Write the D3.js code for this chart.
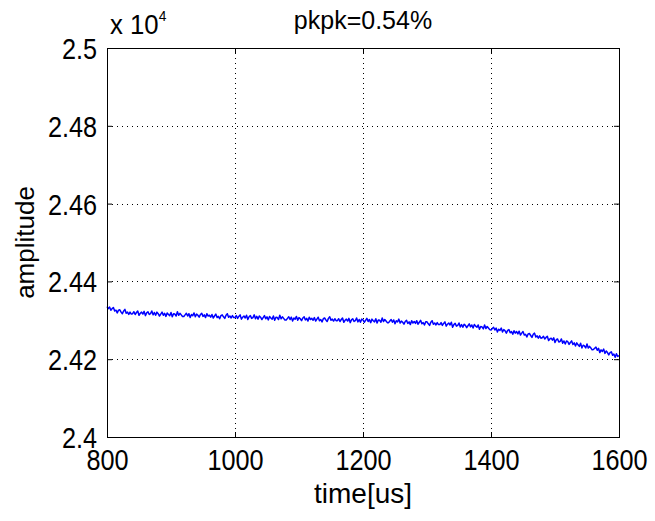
<!DOCTYPE html>
<html>
<head>
<meta charset="utf-8">
<script src="https://cdn.jsdelivr.net/npm/d3@7"></script>
<style>
  html, body { margin: 0; padding: 0; background: #fff; }
  svg { display: block; }
  text { font-family: "Liberation Sans", Arial, sans-serif; fill: #000; }
</style>
</head>
<body>
<svg id="chart" width="655" height="521"></svg>
<script>
// Sampled amplitude trace, one sample every 2 us from 800 to 1600 us (raw counts)
const timeStart = 800;
const timeStep = 2;
const amplitude = [
  24335, 24330, 24334, 24326, 24330, 24333, 24324, 24326, 24319, 24326, 24327, 24321, 24317, 24324, 24328, 24318, 24321, 24315, 24321, 24316,
  24317, 24322, 24315, 24320, 24324, 24313, 24318, 24321, 24316, 24323, 24312, 24319, 24322, 24315, 24317, 24324, 24314, 24320, 24313, 24321,
  24317, 24311, 24316, 24321, 24313, 24318, 24310, 24319, 24315, 24312, 24320, 24309, 24317, 24316, 24311, 24322, 24313, 24318, 24314, 24310,
  24310, 24314, 24318, 24311, 24317, 24307, 24315, 24312, 24319, 24309, 24316, 24313, 24308, 24315, 24318, 24310, 24314, 24307, 24317, 24311,
  24313, 24308, 24315, 24306, 24311, 24316, 24307, 24310, 24304, 24312, 24314, 24309, 24305, 24313, 24317, 24308, 24311, 24306, 24312, 24307,
  24307, 24312, 24305, 24310, 24314, 24303, 24308, 24311, 24306, 24313, 24302, 24309, 24312, 24305, 24307, 24314, 24304, 24310, 24303, 24311,
  24308, 24302, 24307, 24312, 24304, 24309, 24301, 24310, 24306, 24303, 24311, 24300, 24308, 24307, 24302, 24313, 24304, 24309, 24305, 24301,
  24301, 24305, 24309, 24302, 24308, 24298, 24306, 24303, 24310, 24300, 24307, 24304, 24299, 24306, 24309, 24301, 24305, 24298, 24308, 24302,
  24305, 24300, 24307, 24298, 24303, 24308, 24299, 24302, 24296, 24304, 24306, 24301, 24297, 24305, 24309, 24300, 24303, 24298, 24304, 24299,
  24299, 24304, 24297, 24302, 24306, 24295, 24300, 24303, 24298, 24305, 24294, 24301, 24304, 24297, 24299, 24306, 24296, 24302, 24295, 24303,
  24301, 24295, 24300, 24305, 24297, 24302, 24294, 24303, 24299, 24296, 24304, 24293, 24301, 24300, 24295, 24306, 24297, 24302, 24298, 24294,
  24294, 24298, 24302, 24295, 24301, 24291, 24299, 24296, 24303, 24293, 24298, 24295, 24290, 24297, 24300, 24292, 24296, 24289, 24299, 24293,
  24297, 24292, 24299, 24290, 24295, 24300, 24291, 24294, 24288, 24296, 24296, 24291, 24287, 24295, 24299, 24290, 24293, 24288, 24294, 24289,
  24289, 24294, 24287, 24292, 24296, 24285, 24290, 24293, 24288, 24295, 24282, 24289, 24292, 24285, 24287, 24293, 24283, 24289, 24282, 24290,
  24287, 24281, 24286, 24291, 24283, 24288, 24280, 24289, 24285, 24282, 24288, 24277, 24284, 24283, 24278, 24288, 24279, 24284, 24280, 24276,
  24275, 24279, 24282, 24275, 24280, 24270, 24277, 24274, 24280, 24270, 24276, 24273, 24267, 24274, 24276, 24268, 24271, 24264, 24273, 24267,
  24271, 24265, 24272, 24262, 24267, 24271, 24262, 24264, 24257, 24265, 24266, 24261, 24256, 24264, 24267, 24257, 24260, 24254, 24260, 24254,
  24255, 24259, 24252, 24256, 24259, 24248, 24252, 24254, 24249, 24255, 24243, 24250, 24252, 24244, 24246, 24252, 24241, 24247, 24239, 24247,
  24245, 24238, 24243, 24247, 24238, 24242, 24234, 24242, 24237, 24233, 24241, 24229, 24236, 24234, 24229, 24239, 24229, 24233, 24229, 24224,
  24225, 24228, 24231, 24223, 24228, 24217, 24224, 24220, 24226, 24215, 24221, 24217, 24211, 24217, 24219, 24210, 24213, 24205, 24214, 24207,
  24209
];

const xTicks = [800, 1000, 1200, 1400, 1600];
const yTicks = [24000, 24200, 24400, 24600, 24800, 25000];
const yTickLabels = ["2.4", "2.42", "2.44", "2.46", "2.48", "2.5"];
const yExponent = "4";
const titleText = "pkpk=0.54%";
const xLabel = "time[us]";
const yLabel = "amplitude";

const svg = d3.select("#chart");
const plot = { left: 107, right: 619, top: 48, bottom: 437 };
const narrow = 0.87; // horizontal squeeze for the numeric labels

const x = d3.scaleLinear().domain([800, 1600]).range([plot.left, plot.right]);
const y = d3.scaleLinear().domain([24000, 25000]).range([plot.bottom, plot.top]);

const series = amplitude.map((v, i) => ({ t: timeStart + i * timeStep, v }));

// dotted grid
const grid = svg.append("g").attr("stroke", "#000").attr("stroke-width", 1)
  .attr("stroke-dasharray", "1,4").attr("shape-rendering", "crispEdges");
grid.selectAll("line.gx").data(xTicks.slice(1, -1)).join("line")
  .attr("x1", d => Math.round(x(d)) + 0.5).attr("x2", d => Math.round(x(d)) + 0.5)
  .attr("y1", plot.top).attr("y2", plot.bottom);
grid.selectAll("line.gy").data(yTicks.slice(1, -1)).join("line")
  .attr("y1", d => Math.round(y(d)) + 0.5).attr("y2", d => Math.round(y(d)) + 0.5)
  .attr("x1", plot.left).attr("x2", plot.right);

// trace
const line = d3.line().x(d => x(d.t)).y(d => y(d.v));
svg.append("path").datum(series)
  .attr("fill", "none").attr("stroke", "#0000ff").attr("stroke-width", 1.5)
  .attr("stroke-linejoin", "round")
  .attr("d", line);

// axes with inward ticks
const xAxis = d3.axisBottom(x).tickValues(xTicks).tickSizeInner(-5).tickSizeOuter(0)
  .tickFormat(d3.format("d"));
const yAxis = d3.axisLeft(y).tickValues(yTicks).tickSizeInner(-5).tickSizeOuter(0)
  .tickFormat((d, i) => yTickLabels[i]);

const gx = svg.append("g").attr("transform", `translate(0,${plot.bottom})`).call(xAxis);
const gy = svg.append("g").attr("transform", `translate(${plot.left},0)`).call(yAxis);
// mirrored ticks on the top and right edges
svg.append("g").attr("transform", `translate(0,${plot.top})`)
  .call(d3.axisTop(x).tickValues(xTicks).tickSizeInner(-5).tickSizeOuter(0).tickFormat(""));
svg.append("g").attr("transform", `translate(${plot.right},0)`)
  .call(d3.axisRight(y).tickValues(yTicks).tickSizeInner(-5).tickSizeOuter(0).tickFormat(""));

svg.selectAll(".domain").remove();
svg.selectAll(".tick line").attr("stroke", "#000");
svg.selectAll(".tick text").attr("fill", "#000").attr("font-family", null);
gx.selectAll(".tick text")
  .attr("font-size", 29).attr("y", 10).attr("dy", "0.78em")
  .attr("transform", `scale(${narrow},1)`);
gy.selectAll(".tick text")
  .attr("font-size", 29).attr("x", -10 / narrow).attr("dy", "0.36em")
  .attr("transform", `scale(${narrow},1)`);

// frame
svg.append("rect")
  .attr("x", plot.left + 0.5).attr("y", plot.top + 0.5)
  .attr("width", plot.right - plot.left).attr("height", plot.bottom - plot.top)
  .attr("fill", "none").attr("stroke", "#000").attr("stroke-width", 1);

// exponent marker
const ex = svg.append("text")
  .attr("transform", `translate(110,34) scale(${narrow + 0.05},1)`)
  .attr("font-size", 28);
ex.append("tspan").text("x 10");
ex.append("tspan").attr("font-size", 15).attr("dy", -13).text(yExponent);

// title
svg.append("text")
  .attr("x", (plot.left + plot.right) / 2).attr("y", 29)
  .attr("text-anchor", "middle").attr("font-size", 25)
  .text(titleText);

// axis labels
svg.append("text")
  .attr("x", (plot.left + plot.right) / 2).attr("y", 503)
  .attr("text-anchor", "middle").attr("font-size", 28)
  .text(xLabel);
svg.append("text")
  .attr("transform", `translate(34,${(plot.top + plot.bottom) / 2}) rotate(-90)`)
  .attr("text-anchor", "middle").attr("font-size", 26)
  .text(yLabel);
</script>
</body>
</html>
